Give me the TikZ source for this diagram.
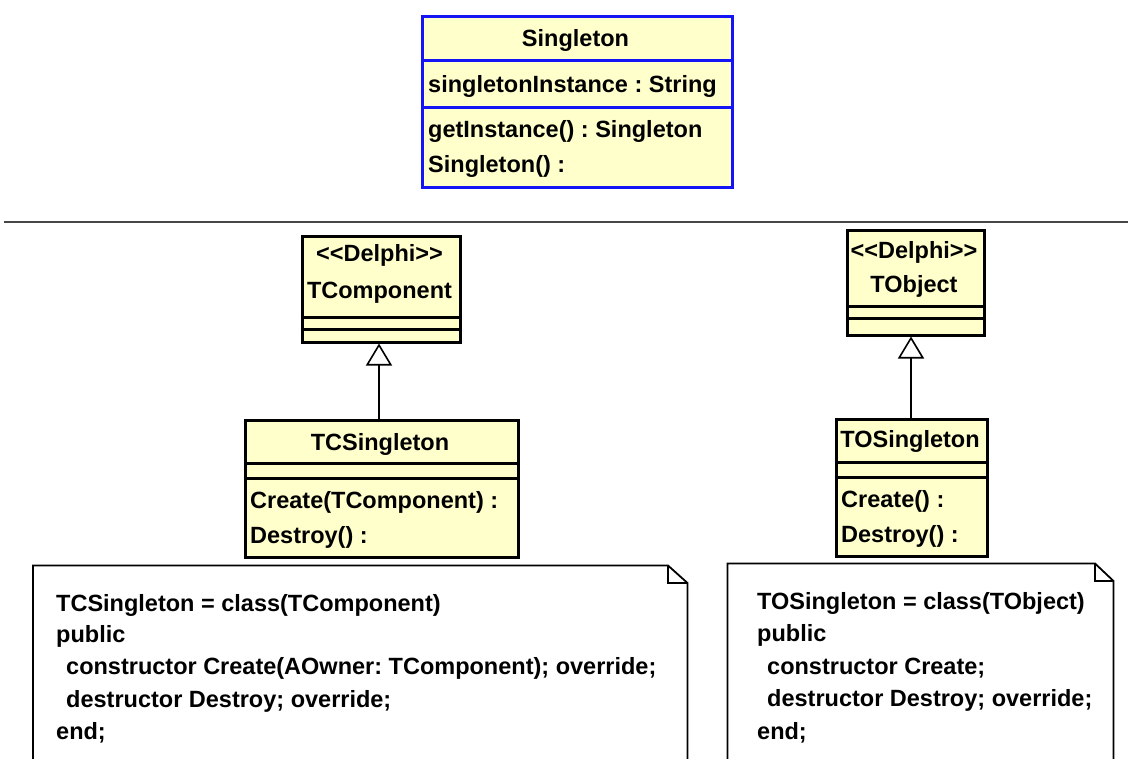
\documentclass[tikz,border=0pt]{standalone}
\usepackage{fontspec}
\setmainfont{Liberation Sans}
\usetikzlibrary{arrows.meta}
\definecolor{umlfill}{RGB}{255,255,204}
\definecolor{umlblue}{RGB}{20,20,245}
\definecolor{rulegray}{RGB}{70,70,70}
\frenchspacing
\newcommand{\indentcode}{\hspace*{10pt}}
\begin{document}
\begin{tikzpicture}[x=1pt,y=-1pt,
  classbox/.style={draw=black, line width=3pt, fill=umlfill, rectangle,
    inner sep=0pt, anchor=north west},
  selbox/.style={classbox, draw=umlblue},
  compline/.style={draw=black, line width=3pt},
  selline/.style={compline, draw=umlblue},
  txt/.style={inner sep=0pt, font=\fontsize{23.5}{28}\selectfont\bfseries},
  head/.style={txt, anchor=base},
  item/.style={txt, anchor=base west},
  inherit/.style={draw=black, line width=1.6pt,
    -{Triangle[open, length=22pt, width=26pt, line width=1.6pt]}},
  notepath/.style={draw=black, line width=1.8pt, fill=white}
]
\useasboundingbox (0,0) rectangle (1131,758);
\clip (0,0) rectangle (1131,758);

% ---- Singleton class ----
\node[selbox, minimum width=310pt, minimum height=171pt] (sg) at (420.5,14.5) {};
\draw[selline] (sg.west |- 0,60) -- (sg.east |- 0,60);
\draw[selline] (sg.west |- 0,107) -- (sg.east |- 0,107);
\node[head] (sgName) at (575.5,46) {Singleton};
\node[item] (sgAttr) at (428,92) {singletonInstance : String};
\node[item] (sgOp1) at (428,137.5) {getInstance() : Singleton};
\node[item] (sgOp2) at (428,172.5) {Singleton() :};

% ---- separator ----
\coordinate (ruleL) at (4,221.5);
\coordinate (ruleR) at (1128,221.5);
\draw[rulegray, line width=2pt] (ruleL) -- (ruleR);

% ---- TComponent ----
\node[classbox, minimum width=158pt, minimum height=106pt] (tcomp) at (300.5,234.5) {};
\draw[compline] (tcomp.west |- 0,317) -- (tcomp.east |- 0,317);
\draw[compline] (tcomp.west |- 0,329) -- (tcomp.east |- 0,329);
\node[head] (tcompSt) at (379.5,261) {<{}<Delphi>{}>};
\node[head] (tcompName) at (379.5,298) {TComponent};

% ---- TCSingleton ----
\node[classbox, minimum width=273pt, minimum height=137pt] (tcs) at (243.5,418.5) {};
\draw[compline] (tcs.west |- 0,463) -- (tcs.east |- 0,463);
\draw[compline] (tcs.west |- 0,478) -- (tcs.east |- 0,478);
\node[head] (tcsName) at (380,450) {TCSingleton};
\node[item] (tcsOp1) at (250,508) {Create(TComponent) :};
\node[item] (tcsOp2) at (250,543) {Destroy() :};

% ---- TObject ----
\node[classbox, minimum width=137pt, minimum height=105pt] (tobj) at (845.5,228.5) {};
\draw[compline] (tobj.west |- 0,306) -- (tobj.east |- 0,306);
\draw[compline] (tobj.west |- 0,318) -- (tobj.east |- 0,318);
\node[head] (tobjSt) at (914,258) {<{}<Delphi>{}>};
\node[head] (tobjName) at (914,292) {TObject};

% ---- TOSingleton ----
\node[classbox, minimum width=151pt, minimum height=137pt] (tos) at (834.5,417.5) {};
\draw[compline] (tos.west |- 0,462) -- (tos.east |- 0,462);
\draw[compline] (tos.west |- 0,477) -- (tos.east |- 0,477);
\node[head] (tosName) at (910,447) {TOSingleton};
\node[item] (tosOp1) at (841,507) {Create() :};
\node[item] (tosOp2) at (841,542) {Destroy() :};

% ---- generalisations ----
\draw[inherit] (tcs.north -| 379,0) -- (tcomp.south -| 379,0);
\draw[inherit] (tos.north -| 911,0) -- (tobj.south -| 911,0);

% ---- notes ----
\path[notepath] (33,800) -- (33,565.5) -- (668,565.5) -- (687.5,583) -- (687.5,800);
\draw[black, line width=1.8pt] (668,565.5) -- (668,583) -- (687.5,583);
\node[item] (n1l1) at (56,611) {TCSingleton = class(TComponent)};
\node[item] (n1l2) at (56,642) {public};
\node[item] (n1l3) at (56,674) {\indentcode constructor Create(AOwner: TComponent); override;};
\node[item] (n1l4) at (56,707) {\indentcode destructor Destroy; override;};
\node[item] (n1l5) at (56,739) {end;};

\path[notepath] (727.5,800) -- (727.5,563.5) -- (1095,563.5) -- (1113.5,581) -- (1113.5,800);
\draw[black, line width=1.8pt] (1095,563.5) -- (1095,581) -- (1113.5,581);
\node[item] (n2l1) at (757,609) {TOSingleton = class(TObject)};
\node[item] (n2l2) at (757,641) {public};
\node[item] (n2l3) at (757,674) {\indentcode constructor Create;};
\node[item] (n2l4) at (757,706) {\indentcode destructor Destroy; override;};
\node[item] (n2l5) at (757,739) {end;};
\end{tikzpicture}
\end{document}
